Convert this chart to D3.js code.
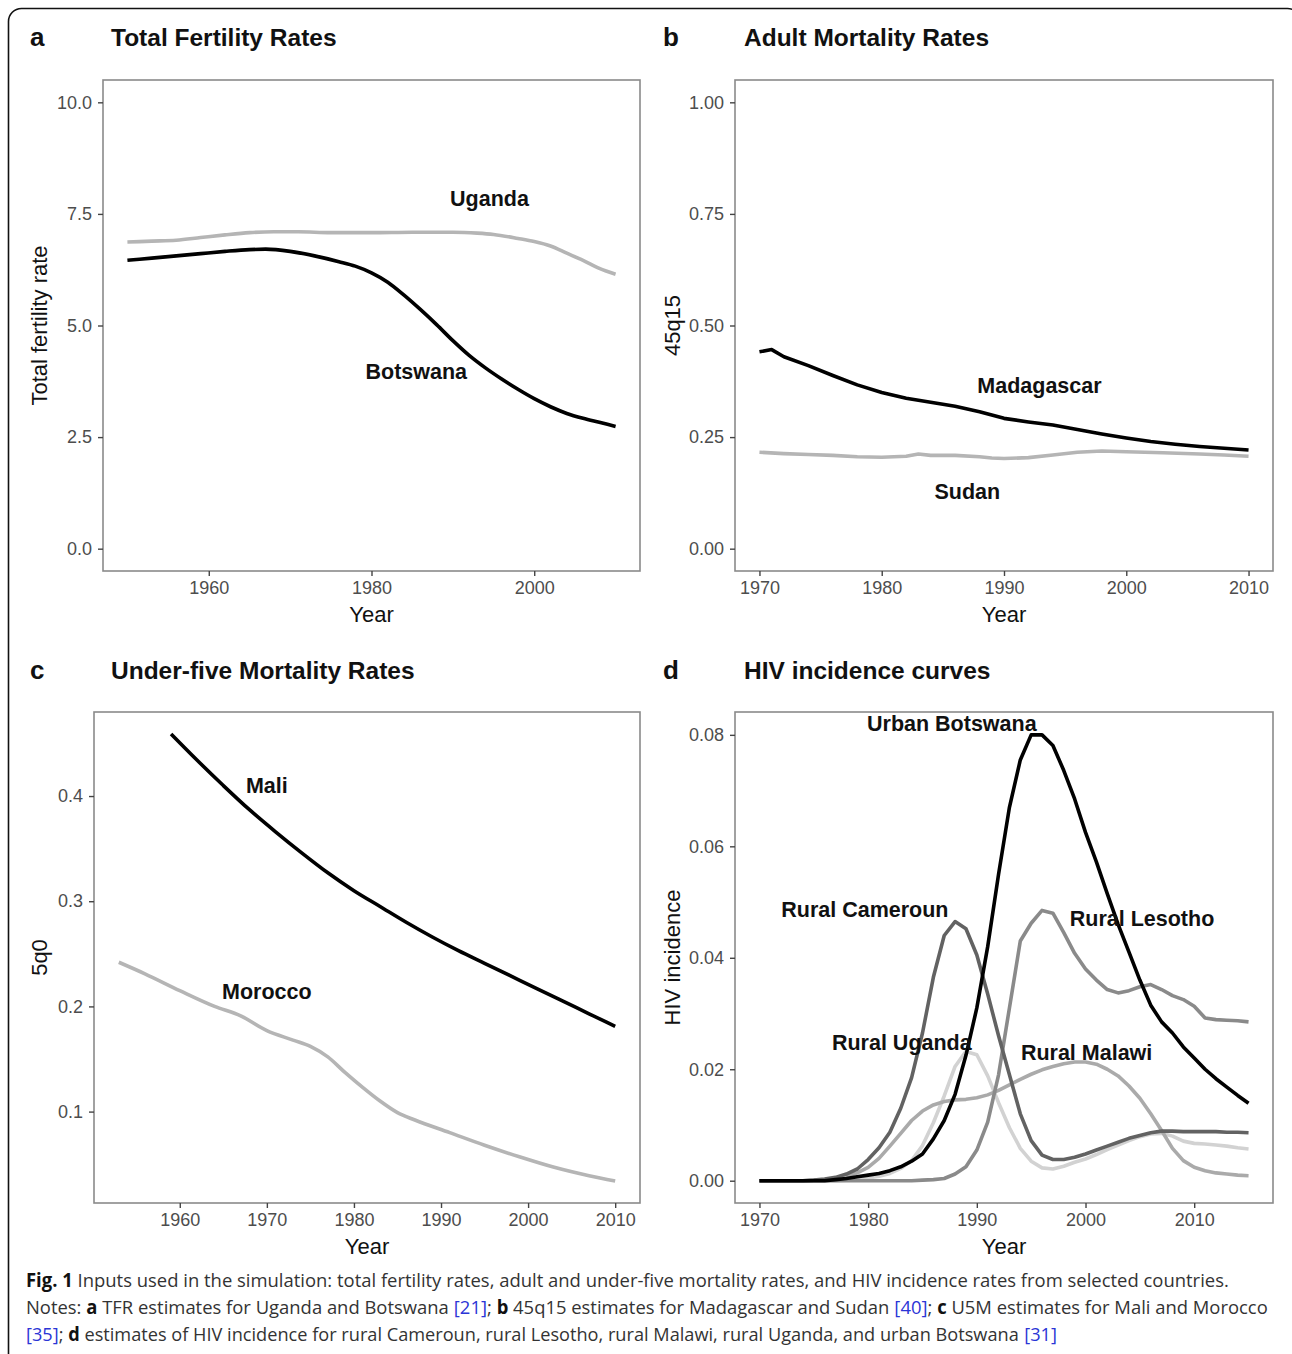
<!DOCTYPE html>
<html>
<head>
<meta charset="utf-8">
<script src="https://cdn.jsdelivr.net/npm/d3@7"></script>
<style>
  html, body { margin: 0; padding: 0; background: #fff; }
  svg { display: block; }
  text { font-family: "Liberation Sans", Arial, Helvetica, sans-serif; }
</style>
</head>
<body>
<svg id="fig" width="1292" height="1354"></svg>
<script>
// ---------------- DATA ----------------
// Panel a: Total fertility rates
const tfrBotswana = [[1950,6.46],[1953,6.51],[1956,6.56],[1959,6.61],[1962,6.66],[1965,6.70],[1967,6.71],[1970,6.66],[1973,6.56],[1976,6.43],[1978,6.33],[1980,6.18],[1982,5.97],[1984,5.68],[1986,5.36],[1988,5.02],[1990,4.66],[1992,4.33],[1994,4.05],[1996,3.80],[1998,3.57],[2000,3.36],[2002,3.18],[2004,3.03],[2006,2.92],[2008,2.83],[2010,2.74]];
const tfrUganda = [[1950,6.87],[1953,6.89],[1956,6.91],[1959,6.97],[1962,7.03],[1965,7.08],[1968,7.10],[1971,7.10],[1975,7.08],[1980,7.08],[1985,7.09],[1990,7.09],[1993,7.07],[1995,7.04],[1998,6.95],[2000,6.88],[2002,6.78],[2004,6.62],[2006,6.46],[2008,6.28],[2010,6.15]];
const tfrYTicks = [0, 2.5, 5, 7.5, 10];
const tfrXTicks = [1960, 1980, 2000];

// Panel b: Adult mortality (45q15)
const amrMadagascar = [[1970,.441],[1971,.446],[1972,.430],[1974,.410],[1976,.388],[1978,.367],[1980,.350],[1982,.337],[1984,.328],[1986,.319],[1988,.307],[1990,.292],[1992,.284],[1994,.277],[1996,.267],[1998,.257],[2000,.248],[2002,.240],[2004,.234],[2006,.229],[2008,.225],[2010,.221]];
const amrSudan = [[1970,.216],[1972,.213],[1974,.211],[1976,.209],[1978,.206],[1980,.205],[1981,.206],[1982,.207],[1983,.212],[1984,.209],[1986,.209],[1988,.206],[1989,.203],[1990,.202],[1992,.204],[1994,.210],[1996,.216],[1998,.219],[2000,.217],[2003,.215],[2006,.212],[2008,.210],[2010,.207]];
const amrYTicks = [0, 0.25, 0.5, 0.75, 1];
const amrXTicks = [1970, 1980, 1990, 2000, 2010];

// Panel c: Under-five mortality (5q0)
const u5mMali = [[1959,.459],[1962,.434],[1965,.410],[1968,.387],[1971,.366],[1974,.346],[1977,.327],[1980,.310],[1983,.295],[1986,.280],[1989,.266],[1992,.253],[1995,.241],[1998,.229],[2001,.217],[2004,.205],[2007,.193],[2010,.181]];
const u5mMorocco = [[1953,.242],[1956,.231],[1960,.215],[1964,.200],[1967,.191],[1970,.177],[1973,.168],[1975,.162],[1977,.152],[1979,.137],[1981,.123],[1983,.110],[1985,.099],[1987,.092],[1991,.080],[1995,.068],[1999,.057],[2003,.047],[2007,.039],[2010,.034]];
const u5mYTicks = [0.1, 0.2, 0.3, 0.4];
const u5mXTicks = [1960, 1970, 1980, 1990, 2000, 2010];

// Panel d: HIV incidence, annual 1970-2015
const hivYears = d3.range(1970, 2016);
const hivUrbanBotswana = [0,0,0,0,0,0,0,0.0002,0.0004,0.0007,0.0010,0.0013,0.0018,0.0025,0.0035,0.0048,0.0075,0.0108,0.0155,0.0225,0.0310,0.0420,0.0550,0.0670,0.0755,0.0800,0.0800,0.0781,0.0736,0.0685,0.0625,0.0572,0.0515,0.0460,0.0410,0.0360,0.0315,0.0285,0.0265,0.0240,0.0220,0.0200,0.0183,0.0168,0.0153,0.0139];
const hivRuralCameroun = [0,0,0,0,0,0.0001,0.0003,0.0006,0.0012,0.0021,0.0038,0.0059,0.0087,0.0130,0.0185,0.0265,0.0365,0.0440,0.0465,0.0452,0.0405,0.0335,0.0260,0.0190,0.0120,0.0072,0.0046,0.0038,0.0038,0.0042,0.0048,0.0055,0.0062,0.0069,0.0076,0.0081,0.0086,0.0089,0.0089,0.0088,0.0088,0.0088,0.0088,0.0087,0.0087,0.0086];
const hivRuralLesotho = [0,0,0,0,0,0,0,0,0,0,0,0,0,0,0,0.0001,0.0002,0.0004,0.0012,0.0025,0.0055,0.0105,0.0190,0.0310,0.0430,0.0462,0.0485,0.0480,0.0445,0.0408,0.0380,0.0360,0.0343,0.0337,0.0341,0.0348,0.0352,0.0343,0.0332,0.0325,0.0313,0.0292,0.0289,0.0288,0.0287,0.0285];
const hivRuralMalawi = [0,0,0,0,0,0.0001,0.0002,0.0004,0.0007,0.0014,0.0024,0.0040,0.0062,0.0085,0.0108,0.0125,0.0136,0.0142,0.0145,0.0146,0.0149,0.0154,0.0162,0.0172,0.0182,0.0191,0.0199,0.0205,0.0210,0.0213,0.0213,0.0209,0.0200,0.0188,0.0170,0.0148,0.0120,0.0090,0.0058,0.0036,0.0024,0.0018,0.0014,0.0012,0.0010,0.0009];
const hivRuralUganda = [0,0,0,0,0,0,0,0,0.0001,0.0003,0.0005,0.0008,0.0013,0.0022,0.0036,0.0063,0.0104,0.0152,0.0205,0.0232,0.0226,0.0188,0.0140,0.0095,0.0058,0.0035,0.0023,0.0021,0.0026,0.0033,0.0039,0.0047,0.0056,0.0064,0.0072,0.0079,0.0084,0.0085,0.0080,0.0071,0.0067,0.0066,0.0064,0.0062,0.0059,0.0057];
const hivYTicks = [0, 0.02, 0.04, 0.06, 0.08];
const hivXTicks = [1970, 1980, 1990, 2000, 2010];

// Direct labels (data coordinates)
const labelsA = [["Uganda",1994.5,7.83],["Botswana",1985.5,3.96]];
const labelsB = [["Madagascar",1992.9,0.365],["Sudan",1987.0,0.128]];
const labelsC = [["Mali",1970,0.41],["Morocco",1970,0.214]];
const labelsD = [["Urban Botswana",1987.7,0.082],["Rural Cameroun",1979.7,0.0485],["Rural Lesotho",2005.2,0.0469],["Rural Uganda",1983.1,0.0247],["Rural Malawi",2000.1,0.0229]];

// Caption
const captionLines = [
  [["Fig. 1", "b"], [" Inputs used in the simulation: total fertility rates, adult and under-five mortality rates, and HIV incidence rates from selected countries.", ""]],
  [["Notes: ", ""], ["a", "b"], [" TFR estimates for Uganda and Botswana ", ""], ["[21]", "l"], ["; ", ""], ["b", "b"], [" 45q15 estimates for Madagascar and Sudan ", ""], ["[40]", "l"], ["; ", ""], ["c", "b"], [" U5M estimates for Mali and Morocco", ""]],
  [["[35]", "l"], ["; ", ""], ["d", "b"], [" estimates of HIV incidence for rural Cameroun, rural Lesotho, rural Malawi, rural Uganda, and urban Botswana ", ""], ["[31]", "l"]]
];

// ---------------- DRAWING ----------------
const svg = d3.select("#fig");

// figure frame (rounded, partially cut by the page edge)
svg.append("rect").attr("x", 8.5).attr("y", 8.5).attr("width", 1292).attr("height", 1400)
  .attr("rx", 13).attr("fill", "none").attr("stroke", "#111").attr("stroke-width", 1.6);

function panel(cfg) {
  const {box, xDom, yDom, xTicks, yTicks, yFmt, series, labels, letter, title, ylab, curve} = cfg;
  const [x0, y0, x1, y1] = box;
  const x = d3.scaleLinear().domain(xDom).range([x0, x1]);
  const y = d3.scaleLinear().domain(yDom).range([y1, y0]);
  const g = svg.append("g");

  g.append("rect").attr("x", x0).attr("y", y0).attr("width", x1 - x0).attr("height", y1 - y0)
    .attr("fill", "none").attr("stroke", "#8a8a8a").attr("stroke-width", 1.6);

  const ax = g.append("g").attr("transform", `translate(0,${y1})`)
    .call(d3.axisBottom(x).tickValues(xTicks).tickFormat(d3.format("d")).tickSize(5).tickPadding(5));
  const ay = g.append("g").attr("transform", `translate(${x0},0)`)
    .call(d3.axisLeft(y).tickValues(yTicks).tickFormat(d3.format(yFmt)).tickSize(5).tickPadding(6));
  [ax, ay].forEach(a => {
    a.attr("font-family", null);
    a.select(".domain").remove();
    a.selectAll(".tick line").attr("stroke", "#444").attr("stroke-width", 1.4);
    a.selectAll(".tick text").attr("fill", "#4d4d4d").style("font-size", "18px")
      .style("font-family", '"Liberation Sans", Arial, sans-serif');
  });

  g.append("text").attr("x", (x0 + x1) / 2).attr("y", y1 + 51).attr("text-anchor", "middle")
    .style("font-size", "22px").attr("fill", "#111").text("Year");
  g.append("text").attr("transform", `translate(${cfg.ylabX},${(y0 + y1) / 2}) rotate(-90)`)
    .attr("text-anchor", "middle").style("font-size", "22px").attr("fill", "#111").text(ylab);

  g.append("text").attr("x", cfg.letterX).attr("y", cfg.titleY).style("font-size", "26px")
    .style("font-weight", "bold").attr("fill", "#111").text(letter);
  g.append("text").attr("x", cfg.letterX + 81).attr("y", cfg.titleY).style("font-size", "24.5px")
    .style("font-weight", "bold").attr("fill", "#111").text(title);

  const line = d3.line().x(d => x(d[0])).y(d => y(d[1])).curve(curve);
  series.forEach(s => {
    g.append("path").datum(s.data).attr("d", line).attr("fill", "none")
      .attr("stroke", s.color).attr("stroke-width", 3.6).attr("stroke-linejoin", "round");
  });

  labels.forEach(l => {
    g.append("text").attr("x", x(l[1])).attr("y", y(l[2])).attr("text-anchor", "middle")
      .attr("dominant-baseline", "central").style("font-size", "21.5px").style("font-weight", "bold")
      .attr("fill", "#111").text(l[0]);
  });
}

const zipYears = vals => hivYears.map((yr, i) => [yr, vals[i]]);

panel({
  box: [103, 80, 640, 571], xDom: [1947, 2013], yDom: [-0.5, 10.5],
  xTicks: tfrXTicks, yTicks: tfrYTicks, yFmt: ".1f",
  series: [{data: tfrUganda, color: "#b5b5b5"}, {data: tfrBotswana, color: "#000"}],
  labels: labelsA, letter: "a", title: "Total Fertility Rates", ylab: "Total fertility rate",
  letterX: 30, titleY: 46, ylabX: 47, curve: d3.curveMonotoneX
});
panel({
  box: [735, 80, 1273, 571], xDom: [1968, 2012], yDom: [-0.05, 1.05],
  xTicks: amrXTicks, yTicks: amrYTicks, yFmt: ".2f",
  series: [{data: amrSudan, color: "#b5b5b5"}, {data: amrMadagascar, color: "#000"}],
  labels: labelsB, letter: "b", title: "Adult Mortality Rates", ylab: "45q15",
  letterX: 663, titleY: 46, ylabX: 680, curve: d3.curveLinear
});
panel({
  box: [94, 712, 640, 1203], xDom: [1950.15, 2012.85], yDom: [0.0131, 0.4799],
  xTicks: u5mXTicks, yTicks: u5mYTicks, yFmt: ".1f",
  series: [{data: u5mMorocco, color: "#b5b5b5"}, {data: u5mMali, color: "#000"}],
  labels: labelsC, letter: "c", title: "Under-five Mortality Rates", ylab: "5q0",
  letterX: 30, titleY: 679, ylabX: 47, curve: d3.curveMonotoneX
});
panel({
  box: [735, 712, 1273, 1203], xDom: [1967.75, 2017.25], yDom: [-0.004, 0.0841],
  xTicks: hivXTicks, yTicks: hivYTicks, yFmt: ".2f",
  series: [
    {data: zipYears(hivRuralUganda), color: "#d2d2d2"},
    {data: zipYears(hivRuralMalawi), color: "#aaaaaa"},
    {data: zipYears(hivRuralLesotho), color: "#8a8a8a"},
    {data: zipYears(hivRuralCameroun), color: "#626262"},
    {data: zipYears(hivUrbanBotswana), color: "#000"}
  ],
  labels: labelsD, letter: "d", title: "HIV incidence curves", ylab: "HIV incidence",
  letterX: 663, titleY: 679, ylabX: 680, curve: d3.curveLinear
});

// ---------------- CAPTION ----------------
const capY = [1287, 1314, 1341];
const capLen = [1203, 1242, 1031];
captionLines.forEach((parts, li) => {
  const lg = svg.append("g");
  let cx = 0;
  parts.forEach(p => {
    const t = lg.append("text").attr("x", cx).attr("y", 0)
      .attr("xml:space", "preserve")
      .style("font-family", '"Open Sans", "Noto Sans", sans-serif').style("font-size", "19px")
      .style("white-space", "pre")
      .attr("fill", p[1] === "l" ? "#2b35d6" : (p[1] === "b" ? "#111" : "#333"))
      .style("font-weight", p[1] === "b" ? "bold" : "normal")
      .text(p[0]);
    cx += t.node().getComputedTextLength();
  });
  const sx = capLen[li] / cx;
  lg.attr("transform", `translate(26,${capY[li]}) scale(${sx},1)`);
});
</script>
</body>
</html>
